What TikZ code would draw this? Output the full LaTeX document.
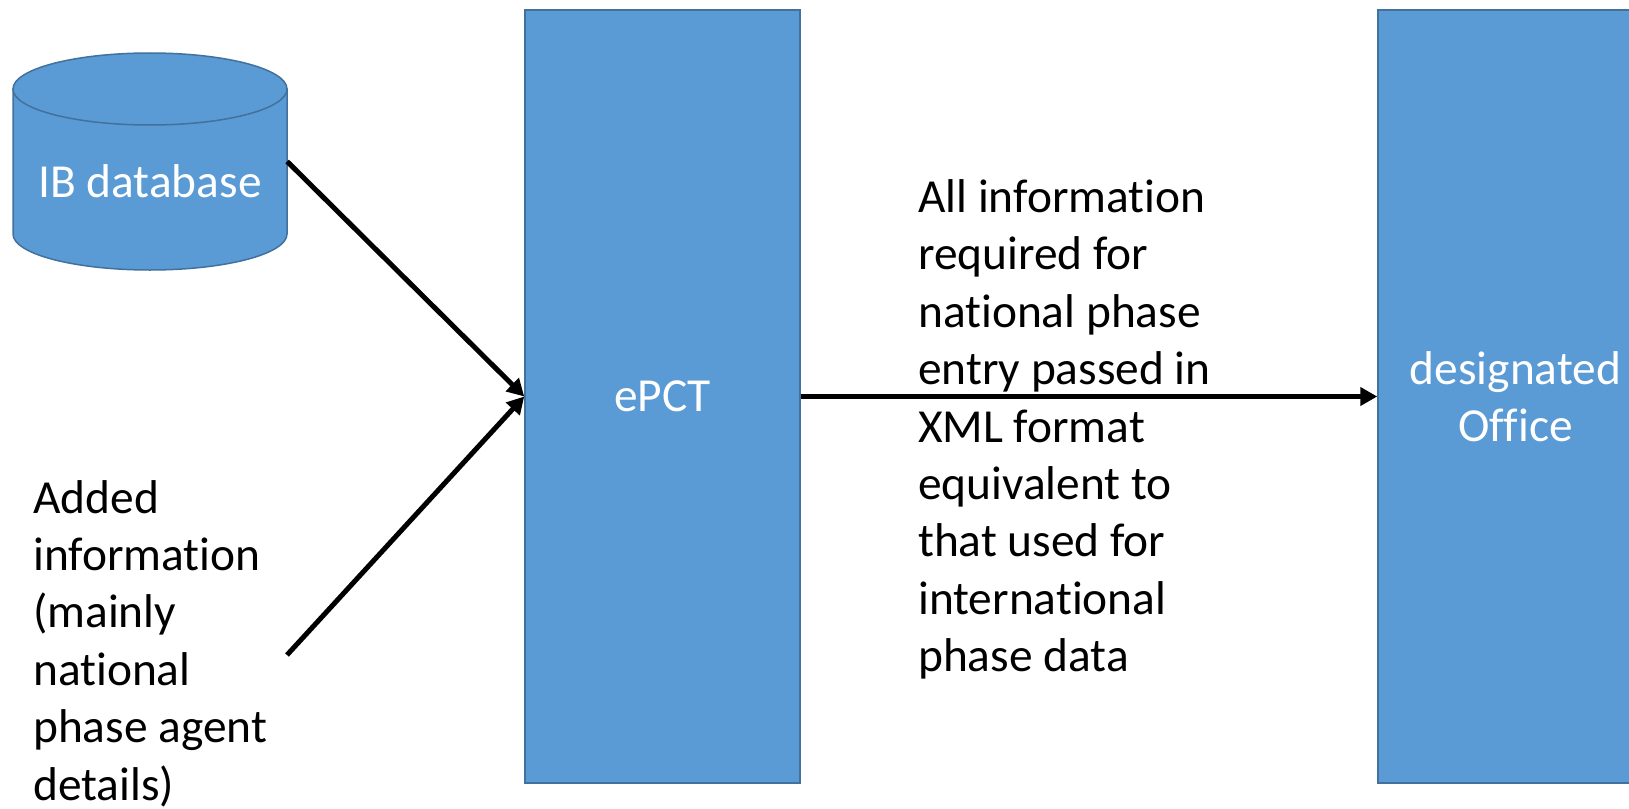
\documentclass[tikz,border=0pt]{standalone}
\usepackage{fontspec}
\setmainfont{Carlito}[Ligatures={NoCommon}]
\usetikzlibrary{arrows.meta}
\definecolor{boxfill}{HTML}{5B9BD5}
\definecolor{boxline}{HTML}{41719C}
\tikzset{
  bluebox/.style={draw=boxline, fill=boxfill, line width=1.5bp, text=white, align=center, inner sep=0pt},
  cyl/.style={draw=boxline, fill=boxfill, line width=1.5bp},
  flow/.style={line width=5bp, draw=black, -{Triangle[length=17bp,width=18bp]}},
  label/.style={align=left, inner sep=0pt, anchor=north west, text=black},
  bigfont/.style={font=\fontsize{47.4bp}{57.4bp}\selectfont}
}
\begin{document}
\begin{tikzpicture}[x=1bp, y=-1bp, bigfont]
\useasboundingbox (0,0) rectangle (1629,809);
% cylinder
\filldraw[cyl] (13,89) -- (13,234) arc[start angle=180, end angle=0, x radius=137, y radius=36] -- (287,89) -- cycle;
\filldraw[cyl] (150,89) ellipse[x radius=137, y radius=36];
\node[minimum width=274bp, minimum height=217bp, inner sep=0pt] (db) at (150,161.5) {};
\node[text=white, anchor=base] (dbtext) at (150,197) {IB database};
% boxes
\node[bluebox, minimum width=275bp, minimum height=773bp] (epct) at (662.5,396.5) {ePCT};
\node[bluebox, minimum width=275bp, minimum height=773bp] (do) at (1515.5,396.5) {designated\\Office};
% labels
\node[label] (added) at (33,480) {Added\\information\\(mainly\\national\\phase agent\\details)};
\node[label] (allinfo) at (918,179.4) {All information\\required for\\national phase\\entry passed in\\XML format\\equivalent to\\that used for\\international\\phase data};
\coordinate (addedend) at (287,655);
% connectors
\draw[flow] (db.east) -- (epct.west);
\draw[flow] (addedend) -- (epct.west);
\draw[flow] (epct.east) -- (do.west);
\end{tikzpicture}
\end{document}
